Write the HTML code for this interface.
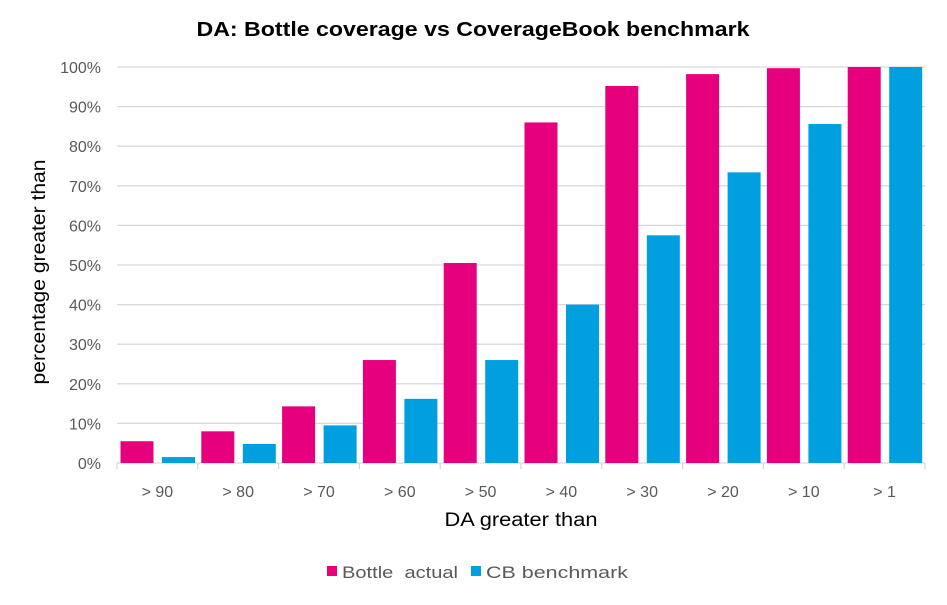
<!DOCTYPE html>
<html><head><meta charset="utf-8"><style>
body{margin:0;background:#fff;font-family:"Liberation Sans",sans-serif}
svg text{font-family:"Liberation Sans",sans-serif;white-space:pre}
</style></head><body>
<svg id="c" width="947" height="600">
<text x="473" y="36" text-anchor="middle" font-size="20" font-weight="bold" fill="#000" textLength="553" lengthAdjust="spacingAndGlyphs">DA: Bottle coverage vs CoverageBook benchmark</text>
<text transform="translate(45,272) rotate(-90)" text-anchor="middle" font-size="19" fill="#000" textLength="225" lengthAdjust="spacingAndGlyphs">percentage greater than</text>
<text x="521" y="526" text-anchor="middle" font-size="19" fill="#000" textLength="153" lengthAdjust="spacingAndGlyphs">DA greater than</text>
<g id="grid"></g><g id="bars"></g><g id="axes"></g>
<g>
<rect x="327" y="566" width="10" height="10" fill="#E6007E"/>
<text x="342" y="578" font-size="17" fill="#595959" textLength="116" lengthAdjust="spacingAndGlyphs">Bottle  actual</text>
<rect x="471" y="566" width="10" height="10" fill="#009FE0"/>
<text x="486" y="578" font-size="17" fill="#595959" textLength="142" lengthAdjust="spacingAndGlyphs">CB benchmark</text>
</g>
</svg>
<script>
const categories=["> 90","> 80","> 70","> 60","> 50","> 40","> 30","> 20","> 10","> 1"];
const bottleActual=[5.5,8,14.3,26,50.5,86,95.2,98.2,99.7,100];
const cbBenchmark=[1.5,4.8,9.5,16.2,26,40,57.5,73.4,85.6,100];
const yTicks=[0,10,20,30,40,50,60,70,80,90,100];
const NS="http://www.w3.org/2000/svg";
const L=117,R=925,T=67,B=463;
const bw=(R-L)/categories.length;
const y=v=>B-(v/100)*(B-T);
const x=i=>L+i*bw;
function mk(tag,attrs,parent,txt){const e=document.createElementNS(NS,tag);for(const k in attrs)e.setAttribute(k,attrs[k]);if(txt!==undefined)e.textContent=txt;document.getElementById(parent).appendChild(e);return e;}
yTicks.forEach(t=>{
 const g=mk('line',{x1:L,x2:R,y1:y(t),y2:y(t),stroke:'#d9d9d9','stroke-width':1.3},'grid');
 
 
 const l=mk('text',{x:101,y:y(t)+6,'text-anchor':'end','font-size':16,fill:'#595959'},'axes',t+'%');
 
 
});
categories.forEach((c,i)=>{
 const p=mk('rect',{x:x(i)+3.5,y:y(bottleActual[i]),width:33,height:B-y(bottleActual[i]),fill:'#E6007E'},'bars');
 
 
 const b=mk('rect',{x:x(i)+45,y:y(cbBenchmark[i]),width:33,height:B-y(cbBenchmark[i]),fill:'#009FE0'},'bars');
 
 
 const l=mk('text',{x:x(i)+bw/2,y:497,'text-anchor':'middle','font-size':16,fill:'#595959'},'axes',c);
 
 
});
for(let i=0;i<=categories.length;i++){
 const t=mk('line',{x1:x(i),x2:x(i),y1:B,y2:B+6,stroke:'#d9d9d9','stroke-width':1.3},'axes');
 
 
}
</script>
</body></html>
